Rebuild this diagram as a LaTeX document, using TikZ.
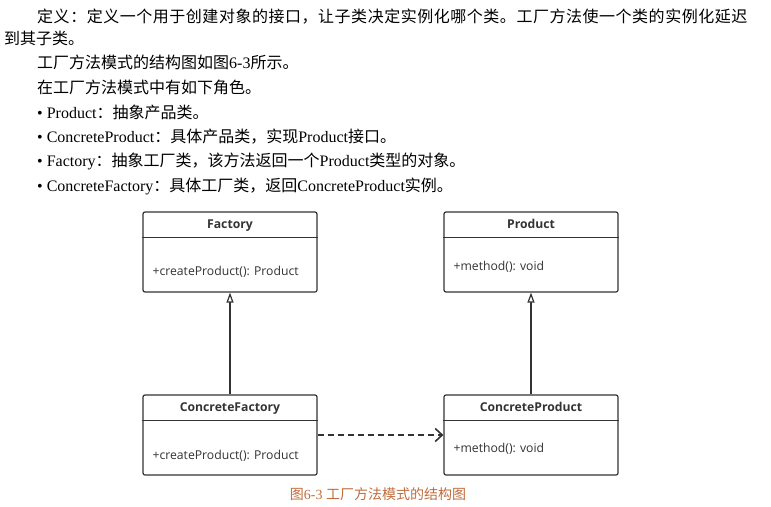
\documentclass[tikz,border=0pt]{standalone}
\usepackage{fontspec}
\setmainfont{Liberation Serif}
\newfontfamily\cjk{Noto Sans CJK SC}
\newfontfamily\cjkwide[LetterSpace=3.3]{Noto Sans CJK SC}
\newfontfamily\umlfont{Open Sans}
\usetikzlibrary{arrows.meta, positioning, calc}
\definecolor{linegray}{RGB}{51,51,51}
\definecolor{captionc}{RGB}{192,108,60}

\begin{document}
\begin{tikzpicture}[x=1pt,y=-1pt,>=Stealth,
	para/.style={anchor=west, inner sep=0pt, font=\fontsize{16}{19}\selectfont},
	classbox/.style={draw=linegray, line width=1.2pt, rounded corners=2pt, fill=white,
		minimum width=174pt, minimum height=80pt, inner sep=0pt},
	classline/.style={draw=linegray, line width=1.2pt},
	classname/.style={anchor=base, inner sep=0pt, text=linegray, font=\umlfont\bfseries\fontsize{12.2}{14}\selectfont},
	classop/.style={anchor=base west, inner sep=0pt, text=linegray, font=\umlfont\fontsize{12.2}{14}\selectfont},
	inherit/.style={draw=linegray, line width=1.2pt, -{Triangle[open, width=7pt, length=10pt, fill=white]}},
	depend/.style={draw=linegray, line width=1.6pt, dash pattern=on 6pt off 4pt, -{Straight Barb[length=7pt, width=13pt]}},
	caption/.style={inner sep=0pt, text=captionc, font=\fontsize{14}{16}\selectfont}]
	\useasboundingbox (0,0) rectangle (771,506);

	% text above the figure
	\node[para] (def1) at (37,17) {\cjkwide 定义：定义一个用于创建对象的接口，让子类决定实例化哪个类。工厂方法使一个类的实例化延迟};
	\node[para] (def2) at (4,38) {\cjk 到其子类。};
	\node[para] (struct) at (37,62) {{\cjk 工厂方法模式的结构图如图}6-3{\cjk 所示。}};
	\node[para] (roles) at (37,87) {\cjk 在工厂方法模式中有如下角色。};
	\node[para] (role1) at (37,112) {• Product{\cjk ：抽象产品类。}};
	\node[para] (role2) at (37,137) {• ConcreteProduct{\cjk ：具体产品类，实现}Product{\cjk 接口。}};
	\node[para] (role3) at (37,161) {• Factory{\cjk ：抽象工厂类，该方法返回一个}Product{\cjk 类型的对象。}};
	\node[para] (role4) at (37,186) {• ConcreteFactory{\cjk ：具体工厂类，返回}ConcreteProduct{\cjk 实例。}};

	% classes
	\node[classbox] (Factory) at (230,252) {};
	\draw[classline] ($(Factory.north west)+(0,26)$) -- ($(Factory.north east)+(0,26)$);
	\node[classname] (FactoryName) at ($(Factory.north)+(0,17.5)$) {Factory};
	\node[classop] (FactoryOp) at ($(Factory.west)+(10,23)$) {+createProduct(): Product};

	\node[classbox] (Product) at (531,252) {};
	\draw[classline] ($(Product.north west)+(0,26)$) -- ($(Product.north east)+(0,26)$);
	\node[classname] (ProductName) at ($(Product.north)+(0,17.5)$) {Product};
	\node[classop] (ProductOp) at ($(Product.west)+(10,18)$) {+method(): void};

	\node[classbox] (ConcreteFactory) at (230,435) {};
	\draw[classline] ($(ConcreteFactory.north west)+(0,26)$) -- ($(ConcreteFactory.north east)+(0,26)$);
	\node[classname] (ConcreteFactoryName) at ($(ConcreteFactory.north)+(0,17.5)$) {ConcreteFactory};
	\node[classop] (ConcreteFactoryOp) at ($(ConcreteFactory.west)+(10,24)$) {+createProduct(): Product};

	\node[classbox] (ConcreteProduct) at (531,435) {};
	\draw[classline] ($(ConcreteProduct.north west)+(0,26)$) -- ($(ConcreteProduct.north east)+(0,26)$);
	\node[classname] (ConcreteProductName) at ($(ConcreteProduct.north)+(0,17.5)$) {ConcreteProduct};
	\node[classop] (ConcreteProductOp) at ($(ConcreteProduct.west)+(10,17)$) {+method(): void};

	% relations
	\draw[inherit] (ConcreteFactory.north) -- (Factory.south);
	\draw[inherit] (ConcreteProduct.north) -- (Product.south);
	\draw[depend] (ConcreteFactory.east) -- (ConcreteProduct.west);

	\node[caption] (figcap) at (378,494) {{\cjk 图}6-3 {\cjk 工厂方法模式的结构图}};
\end{tikzpicture}
\end{document}
